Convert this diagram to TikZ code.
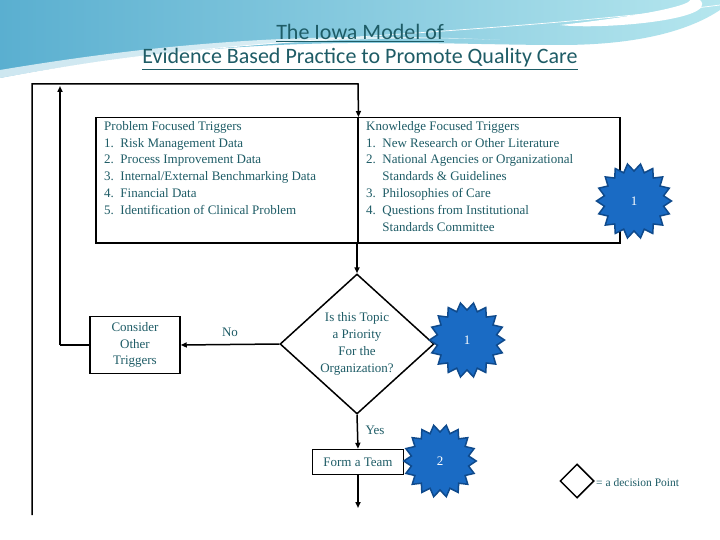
\documentclass[tikz,border=0pt]{standalone}
\usepackage{fontspec}
\setmainfont{Liberation Serif}
\newfontfamily\titlefont{Carlito}
\usetikzlibrary{shapes.geometric,arrows.meta}
\definecolor{tx}{HTML}{1E5C66}
\definecolor{burst}{HTML}{1A6BC4}
\definecolor{burstd}{HTML}{0F4A8C}
\definecolor{bgA}{HTML}{5AAFD0}
\definecolor{bgB}{HTML}{B5E6EE}
\tikzset{
  ln/.style={line width=1.5pt,black},
  arr/.style={ln,-{Triangle[length=6pt,width=5pt]}},
  box/.style={draw,line width=1.5pt,fill=white,text=tx,font=\fontsize{13}{16.8}\selectfont},
  burst/.style={star,star points=18,star point ratio=0.8,fill=burst,draw=burstd,line width=1.5pt,text=white,font=\fontsize{13}{15}\selectfont,minimum size=#1,inner sep=0},
  lab/.style={text=tx,font=\fontsize{13}{16.8}\selectfont}
}
\begin{document}
\begin{tikzpicture}[x=1pt,y=-1pt]
\useasboundingbox (0,0) rectangle (720,540);
\fill[white] (0,0) rectangle (720,540);
% background swoosh
\shade[left color=bgA,right color=bgB] (0,0) -- (720,0) -- (720,10) .. controls (690,30) and (640,45) .. (560,45) .. controls (420,45) and (250,30) .. (0,78) -- cycle;
\fill[white,opacity=0.7] (0,78) .. controls (200,40) and (400,35) .. (500,40) .. controls (300,30) and (150,45) .. (0,70) -- cycle;
\fill[white] (700,0) .. controls (720,20) and (600,30) .. (560,25) .. controls (650,15) and (690,5) .. (690,0) -- cycle;
\draw[white,line width=0.7pt] (0,80) .. controls (200,35) and (450,40) .. (720,5);
% title
\node[text=tx,font=\titlefont\fontsize{22}{24}\selectfont,align=center] (title) at (360,47) {\underline{The Iowa Model of}\\\underline{Evidence Based Practice to Promote Quality Care}};
% trigger box
\node[box,minimum width=262pt,minimum height=125pt,anchor=north west,inner sep=0] (pft) at (95,117) {};
\node[box,minimum width=262pt,minimum height=125pt,anchor=north west,inner sep=0] (kft) at (357,117) {};
\node[lab,anchor=north west,align=left,inner sep=0] (pftt) at (104,121) {Problem Focused Triggers\\1.\ \ Risk Management Data\\2.\ \ Process Improvement Data\\3.\ \ Internal/External Benchmarking Data\\4.\ \ Financial Data\\5.\ \ Identification of Clinical Problem};
\node[lab,anchor=north west,align=left,inner sep=0] (kftt) at (366,121) {Knowledge Focused Triggers\\1.\ \ New Research or Other Literature\\2.\ \ National Agencies or Organizational\\\hphantom{2.\ \ }Standards \& Guidelines\\3.\ \ Philosophies of Care\\4.\ \ Questions from Institutional\\\hphantom{4.\ \ }Standards Committee};
\node[burst=60pt] (s1) at (634,201) {1};
% decision
\node[diamond,draw,line width=1.5pt,fill=white,minimum width=154pt,minimum height=140pt,inner sep=0,text=tx,font=\fontsize{13}{16.8}\selectfont,align=center] (dec) at (357,344) {Is this Topic\\a Priority\\For the\\Organization?};
\node[burst=60pt] (s2) at (467,340) {1};
\node[box,minimum width=90pt,minimum height=57pt,align=center,inner sep=0] (cons) at (135,345) {Consider\\Other\\Triggers};
\node[box,minimum width=91pt,minimum height=25pt,inner sep=0] (team) at (358,462) {Form a Team};
\node[burst=58pt] (s3) at (440,461) {2};
% connectors
\draw[arr] (357,242) -- (dec.north);
\draw[arr] (dec.west) -- node[lab,above=4pt]{No} (cons.east);
\draw[arr] (dec.south) -- node[lab,pos=0.45,right=4pt]{Yes} (team.north);
\coordinate (tend) at (358,508);
\draw[arr] (team.south) -- (tend);
\coordinate (l1) at (60,345);
\coordinate (l1t) at (60,86);
\draw[ln] (cons.west) -- (l1);
\draw[arr] (l1) -- (l1t);
\coordinate (o1) at (32,515);
\coordinate (o2) at (32,84);
\coordinate (o3) at (358,84);
\draw[arr] (o1) -- (o2) -- (o3) -- (pft.north east);
% legend
\node[diamond,draw,line width=1.5pt,minimum width=34pt,minimum height=34pt,inner sep=0] (leg) at (577,481) {};
\node[text=tx,font=\fontsize{11.5}{13}\selectfont,anchor=west,inner sep=0] (legt) at (596,483) {= a decision Point};
\end{tikzpicture}
\end{document}
